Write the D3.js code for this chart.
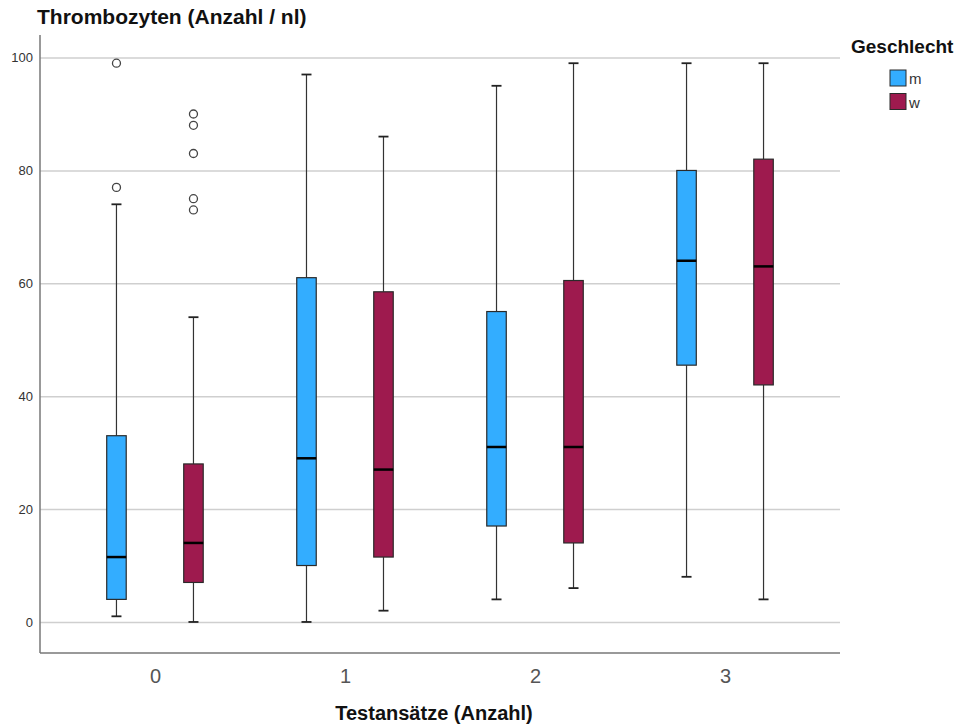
<!DOCTYPE html>
<html>
<head>
<meta charset="utf-8">
<script src="https://cdn.jsdelivr.net/npm/d3@7"></script>
<style>
  body { margin: 0; background: #fff; }
  text { font-family: "Liberation Sans", Arial, sans-serif; }
</style>
</head>
<body>
<div id="chart"></div>
<script>
// Testansätze categories and the two sexes
const categories = ["0", "1", "2", "3"];
const genders = ["m", "w"];
// box stats, order: 0m, 0w, 1m, 1w, 2m, 2w, 3m, 3w
const whiskerLow  = [1, 0, 0, 2, 4, 6, 8, 4];
const q1          = [4, 7, 10, 11.5, 17, 14, 45.5, 42];
const median      = [11.5, 14, 29, 27, 31, 31, 64, 63];
const q3          = [33, 28, 61, 58.5, 55, 60.5, 80, 82];
const whiskerHigh = [74, 54, 97, 86, 95, 99, 99, 99];
const outliers    = [[77, 99], [73, 75, 83, 88, 90], [], [], [], [], [], []];
const yTicks = [0, 20, 40, 60, 80, 100];

const colors = { m: "#33adff", w: "#9e1a4e" };

const width = 970, height = 728;
const plot = { left: 40, right: 840, top: 35, bottom: 653 };
const boxW = 19.5, capW = 10;

const svg = d3.select("#chart").append("svg")
    .attr("width", width)
    .attr("height", height);

let x = d3.scalePoint()
    .domain(categories)
    .range([plot.left, plot.right])
    .padding(0.605);

let xOff = d3.scalePoint()
    .domain(genders)
    .range([-38.5, 38.5]);

let y = d3.scaleLinear()
    .domain([-5.5, 104])
    .range([plot.bottom, plot.top]);

// gridlines + y labels
let yAxis = svg.append("g")
    .attr("transform", "translate(" + plot.left + ",0)")
    .call(d3.axisLeft(y).tickValues(yTicks).tickSize(-(plot.right - plot.left)).tickPadding(7));
yAxis.select(".domain").remove();
yAxis.selectAll(".tick line").attr("stroke", "#cfcfcf").attr("stroke-width", 1.5);
yAxis.selectAll(".tick text")
    .attr("fill", "#333")
    .style("font-size", "13px");

// x labels
let xAxis = svg.append("g")
    .attr("transform", "translate(0," + plot.bottom + ")")
    .call(d3.axisBottom(x).tickSize(0).tickPadding(16));
xAxis.select(".domain").remove();
xAxis.selectAll(".tick text")
    .attr("fill", "#555")
    .style("font-size", "20px");

// axis lines
svg.append("line")
    .attr("x1", plot.left).attr("x2", plot.left)
    .attr("y1", plot.top).attr("y2", plot.bottom)
    .attr("stroke", "#777").attr("stroke-width", 1.5);
svg.append("line")
    .attr("x1", plot.left).attr("x2", plot.right)
    .attr("y1", plot.bottom).attr("y2", plot.bottom)
    .attr("stroke", "#777").attr("stroke-width", 1.5);

// build box rows
let rows = [];
categories.forEach(function(c, i) {
    genders.forEach(function(g, j) {
        let k = i * 2 + j;
        rows.push({
            cat: c, sex: g,
            lo: whiskerLow[k], q1: q1[k], med: median[k], q3: q3[k], hi: whiskerHigh[k],
            out: outliers[k]
        });
    });
});

let boxes = svg.selectAll("g.box")
    .data(rows)
    .enter().append("g")
    .attr("class", "box")
    .attr("transform", function(d) { return "translate(" + (x(d.cat) + xOff(d.sex)) + ",0)"; });

// whiskers
boxes.append("line")
    .attr("x1", 0).attr("x2", 0)
    .attr("y1", function(d) { return y(d.hi); })
    .attr("y2", function(d) { return y(d.q3); })
    .attr("stroke", "#333").attr("stroke-width", 1.2);
boxes.append("line")
    .attr("x1", 0).attr("x2", 0)
    .attr("y1", function(d) { return y(d.q1); })
    .attr("y2", function(d) { return y(d.lo); })
    .attr("stroke", "#333").attr("stroke-width", 1.2);
boxes.append("line")
    .attr("x1", -capW / 2).attr("x2", capW / 2)
    .attr("y1", function(d) { return y(d.hi); })
    .attr("y2", function(d) { return y(d.hi); })
    .attr("stroke", "#222").attr("stroke-width", 1.8);
boxes.append("line")
    .attr("x1", -capW / 2).attr("x2", capW / 2)
    .attr("y1", function(d) { return y(d.lo); })
    .attr("y2", function(d) { return y(d.lo); })
    .attr("stroke", "#222").attr("stroke-width", 1.8);

// boxes
boxes.append("rect")
    .attr("x", -boxW / 2)
    .attr("width", boxW)
    .attr("y", function(d) { return y(d.q3); })
    .attr("height", function(d) { return y(d.q1) - y(d.q3); })
    .attr("fill", function(d) { return colors[d.sex]; })
    .attr("stroke", "#2a2a2a").attr("stroke-width", 1.2);

// medians
boxes.append("line")
    .attr("x1", -boxW / 2).attr("x2", boxW / 2)
    .attr("y1", function(d) { return y(d.med); })
    .attr("y2", function(d) { return y(d.med); })
    .attr("stroke", "#000").attr("stroke-width", 2.5);

// outliers
boxes.selectAll("circle")
    .data(function(d) { return d.out; })
    .enter().append("circle")
    .attr("cx", 0)
    .attr("cy", function(v) { return y(v); })
    .attr("r", 4)
    .attr("fill", "#fff")
    .attr("stroke", "#444").attr("stroke-width", 1.3);

// titles
svg.append("text")
    .attr("x", 37).attr("y", 24)
    .style("font-size", "21px").style("font-weight", "bold")
    .attr("fill", "#111")
    .text("Thrombozyten (Anzahl / nl)");
svg.append("text")
    .attr("x", 434).attr("y", 720)
    .attr("text-anchor", "middle")
    .style("font-size", "20px").style("font-weight", "bold")
    .attr("fill", "#111")
    .text("Testansätze (Anzahl)");

// legend
let legend = svg.append("g").attr("transform", "translate(851,0)");
legend.append("text")
    .attr("x", 0).attr("y", 53)
    .style("font-size", "19px").style("font-weight", "bold")
    .attr("fill", "#111")
    .text("Geschlecht");
let li = legend.selectAll("g.li")
    .data(genders)
    .enter().append("g")
    .attr("class", "li")
    .attr("transform", function(d, i) { return "translate(39," + (70 + i * 23.5) + ")"; });
li.append("rect")
    .attr("width", 16).attr("height", 16)
    .attr("fill", function(d) { return colors[d]; })
    .attr("stroke", "#2a2a2a").attr("stroke-width", 1);
li.append("text")
    .attr("x", 19).attr("y", 14)
    .style("font-size", "15px")
    .attr("fill", "#333")
    .text(function(d) { return d; });
</script>
</body>
</html>
